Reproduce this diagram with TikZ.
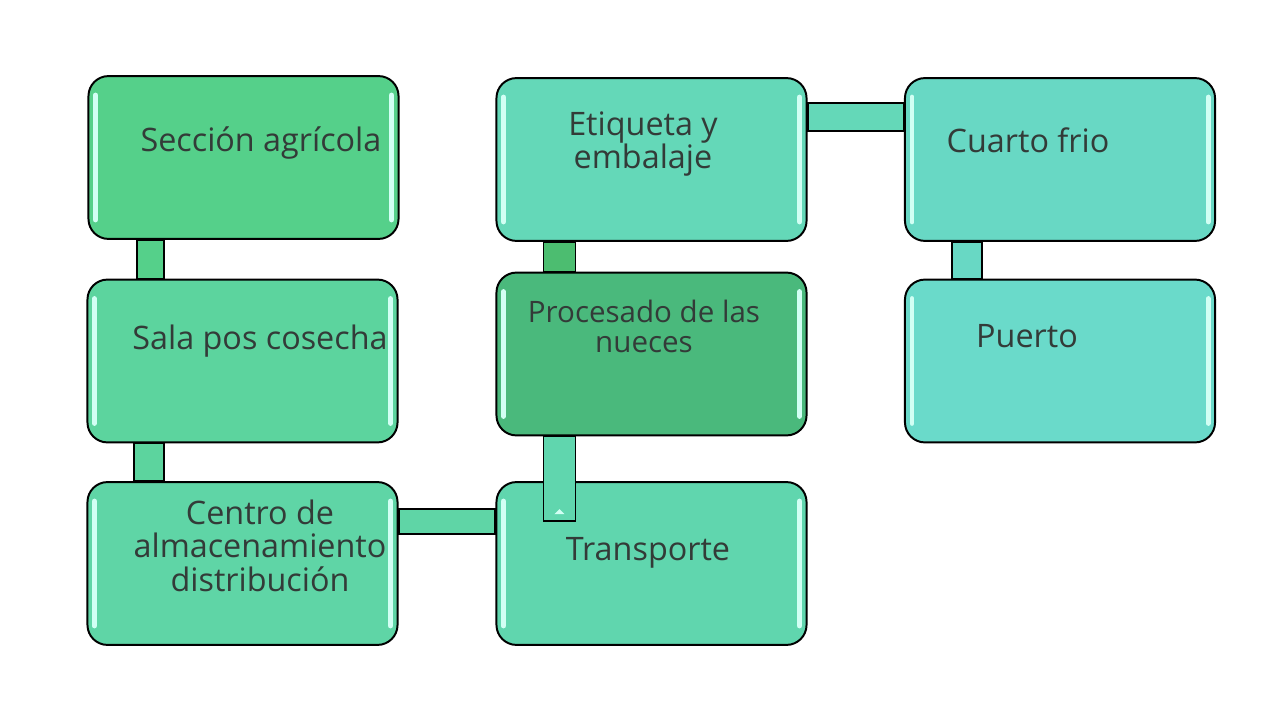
\documentclass[tikz,border=0pt]{standalone}
\usepackage{fontspec}
\setmainfont{Open Sans}
\usepackage{tikz}
\usetikzlibrary{calc}
\definecolor{agrigreen}{HTML}{55D08A}
\definecolor{salagreen}{HTML}{5CD49E}
\definecolor{centrogreen}{HTML}{5FD5A6}
\definecolor{procgreen}{HTML}{4AB97C}
\definecolor{transgreen}{HTML}{60D6AE}
\definecolor{etiqgreen}{HTML}{64D8B8}
\definecolor{cuartogreen}{HTML}{68D8C4}
\definecolor{puertogreen}{HTML}{6ADACA}
\definecolor{bargreen}{HTML}{4CBD70}
\definecolor{txtgray}{HTML}{333B38}
\definecolor{shinecol}{HTML}{D2FFF4}

\begin{document}
\begin{tikzpicture}[x=0.025cm, y=-0.025cm,
  box/.style={draw=black, line width=1.4pt, rounded corners=0.5cm,
  minimum width=7.75cm, minimum height=4.07cm, inner sep=0pt},
  lbl/.style={text=txtgray, font=\fontsize{23}{23.5}\selectfont, align=center},
  bar/.style={draw=black, line width=1.4pt},
  shine/.style={draw=shinecol, line width=3.5pt, line cap=round}
]
\useasboundingbox (0,0) rectangle (1280,720);

\node[box, fill=agrigreen] (agri) at (243.5,157.5) {};
\node[box, fill=salagreen] (sala) at (242.5,361) {};
\node[box, fill=centrogreen] (centro) at (242.5,563.5) {};
\node[box, fill=etiqgreen] (etiq) at (651.5,159.5) {};
\node[box, fill=procgreen] (proc) at (651.5,354) {};
\node[box, fill=transgreen] (trans) at (651.5,563.5) {};
\node[box, fill=cuartogreen] (cuarto) at (1060,159.5) {};
\node[box, fill=puertogreen] (puerto) at (1060,361) {};

% glossy stripes
\foreach \b in {agri,sala,centro,etiq,proc,trans,cuarto,puerto}{
  \draw[shine] ($(\b.north west)+(8,20)$) -- ($(\b.south west)+(8,-20)$);
  \draw[shine] ($(\b.north east)+(-8,20)$) -- ($(\b.south east)+(-8,-20)$);
}

% links
\draw[bar, fill=agrigreen] ($(agri.south west)+(50,0)$) rectangle ($(sala.north west)+(78,0)$);
\draw[bar, fill=salagreen] ($(sala.south west)+(48,0)$) rectangle ($(centro.north west)+(78,0)$);
\draw[bar, fill=centrogreen] ($(centro.north east)+(0,28)$) rectangle ($(trans.north west)+(0,53)$);
\draw[bar, fill=bargreen] ($(etiq.south west)+(48,0)$) rectangle ($(proc.north west)+(80,0)$);
\draw[bar, fill=etiqgreen] ($(etiq.north east)+(0,26)$) rectangle ($(cuarto.north west)+(0,54)$);
\draw[bar, fill=cuartogreen] ($(cuarto.south west)+(48,0)$) rectangle ($(puerto.north west)+(78,0)$);
\draw[bar, fill=transgreen] ($(proc.south west)+(48,0)$) rectangle ($(trans.north west)+(80,40)$);
\fill[shinecol] ($(trans.north west)+(59,33)$) -- ($(trans.north west)+(64,28)$) -- ($(trans.north west)+(69,33)$) -- cycle;

% texts
\node[lbl, anchor=base] (agri-t) at (261,152) {Sección agrícola};
\node[lbl, anchor=base] (sala-t) at (260,350) {Sala pos cosecha};
\node[lbl, anchor=base] (centro-t) at (260,591) {Centro de\\almacenamiento\\distribución};
\node[lbl, anchor=base] (etiq-t) at (643,169) {Etiqueta y\\embalaje};
\node[lbl, anchor=base, font=\fontsize{21}{22}\selectfont] (proc-t) at (644,353) {Procesado de las\\nueces};
\node[lbl, anchor=base] (trans-t) at (648,560) {Transporte};
\node[lbl, anchor=base] (cuarto-t) at (1028,153) {Cuarto frio};
\node[lbl, anchor=base] (puerto-t) at (1027,348) {Puerto};
\end{tikzpicture}
\end{document}
